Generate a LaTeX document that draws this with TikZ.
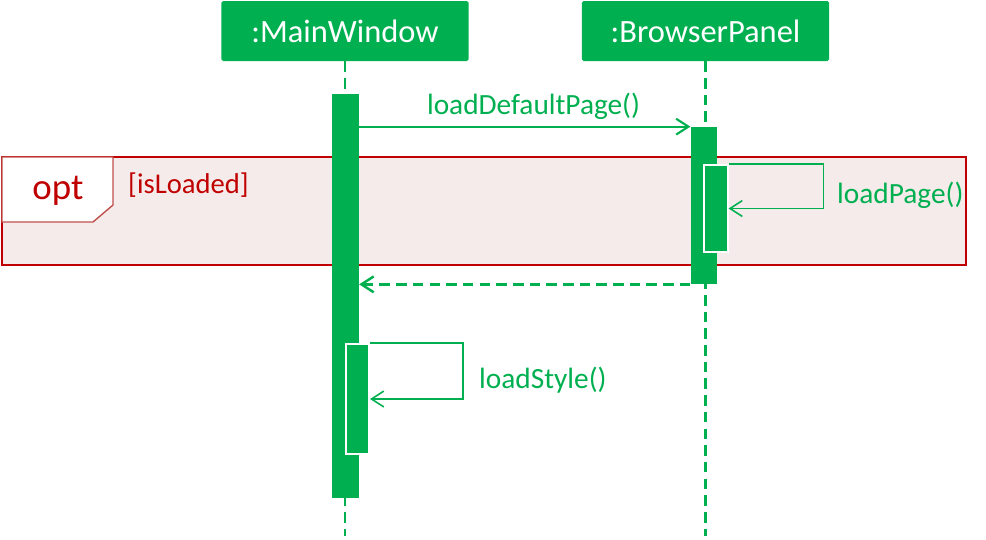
\documentclass[tikz,border=0pt]{standalone}
\usepackage{fontspec}
\setmainfont{Carlito}
\usetikzlibrary{arrows.meta, calc}
\definecolor{umlgreen}{RGB}{0,176,80}
\definecolor{optred}{RGB}{192,0,0}
\definecolor{opttab}{RGB}{192,80,77}
\definecolor{optfill}{RGB}{246,235,235}
\tikzset{lifehead/.style = {fill=umlgreen, text=white, rounded corners=1pt, minimum width=4.95cm, minimum height=1.2cm, inner sep=0pt, font=\fontsize{18.5}{20}\selectfont}}
\tikzset{actbar/.style = {fill=umlgreen, inner sep=0pt, minimum width=0.53cm}}
\tikzset{subbar/.style = {fill=umlgreen, draw=white, line width=0.9pt, inner sep=0pt, minimum width=0.47cm}}
\tikzset{lifeline/.style = {umlgreen, line width=1.4pt, dash pattern=on 6pt off 3.5pt}}
\tikzset{call/.style = {umlgreen, line width=1.2pt, -{Straight Barb[length=7pt, width=9pt]}}}
\tikzset{selfcall/.style = {umlgreen, line width=0.9pt, -{Straight Barb[length=7pt, width=9pt]}}}
\tikzset{reply/.style = {umlgreen, line width=1.4pt, dash pattern=on 6pt off 3.5pt, -{Straight Barb[length=7pt, width=9pt]}}}
\tikzset{msg/.style = {text=umlgreen, font=\fontsize{16.7}{18}\selectfont}}

\begin{document}
\begin{tikzpicture}[x=0.02cm, y=-0.02cm]
\useasboundingbox (0,0) rectangle (986,539);
\draw [optred, line width=1.1pt, fill=optfill] (2,157) rectangle (966,265);
\draw [opttab, line width=0.8pt, fill=white] (2,157) -- (113,157) -- (113,205) -- (93,222) -- (2,222) -- cycle;
\node [text=optred, font=\fontsize{21}{24}\selectfont] (opt) at (58,191) {opt};
\node [text=optred, font=\fontsize{16.3}{18}\selectfont, anchor=west] (guard) at (122,185) {[isLoaded]};
\node [lifehead] (mw) at (345,31) {:MainWindow};
\node [lifehead] (bp) at (705.5,31) {:BrowserPanel};
\coordinate (mwEnd) at (345,536);
\coordinate (bpEnd) at (705.5,536);
\draw [lifeline] (mw.south) -- (mwEnd);
\draw [lifeline] (bp.south) -- (bpEnd);
\node [actbar, minimum height=8.08cm] (mwAct) at (345.5,296) {};
\node [actbar, minimum height=3.14cm] (bpAct) at (704,205.5) {};
\node [subbar, minimum height=1.74cm] (bpSub) at (716,208.5) {};
\node [subbar, minimum height=2.2cm] (mwSub) at (357.5,399) {};
\draw [call] (mwAct.east |- bpAct.north west) -- (bpAct.north west) node [msg, midway, above=0pt, xshift=5pt] (ldp) {loadDefaultPage()};
\draw [selfcall] (bpSub.north east) -- ++(95,0) |- (bpSub.east);
\node [msg, anchor=west] (lp) at (831,195) {loadPage()};
\draw [reply] (bpAct.south west) -- (mwAct.east |- bpAct.south west);
\draw [selfcall] (mwSub.north east) -- ++(93,0) |- (mwSub.east);
\node [msg, anchor=west] (ls) at (473,380) {loadStyle()};
\end{tikzpicture}
\end{document}
